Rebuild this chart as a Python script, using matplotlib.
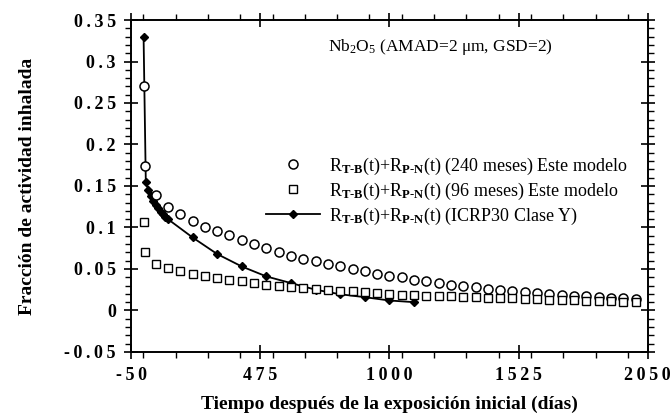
import numpy as np
import matplotlib
matplotlib.use('Agg')
import matplotlib.pyplot as plt
from matplotlib.ticker import MultipleLocator, FixedLocator

plt.rcParams['font.family'] = ['Liberation Serif', 'DejaVu Serif']
plt.rcParams['mathtext.fontset'] = 'custom'
plt.rcParams['mathtext.rm'] = 'Liberation Serif'
plt.rcParams['mathtext.it'] = 'Liberation Serif:italic'
plt.rcParams['mathtext.bf'] = 'Liberation Serif:bold'

# modelo 240 meses (circulos)
t_240 = [1, 7, 50, 100, 150, 200, 250, 300, 350, 400, 450, 500, 550, 600, 650,
         700, 750, 800, 850, 900, 950, 1000, 1050, 1100, 1150, 1200, 1250, 1300,
         1350, 1400, 1450, 1500, 1550, 1600, 1650, 1700, 1750, 1800, 1850, 1900,
         1950, 2000]
r_240 = [0.270, 0.174, 0.139, 0.125, 0.116, 0.108, 0.101, 0.096, 0.091, 0.085,
         0.080, 0.075, 0.071, 0.066, 0.062, 0.060, 0.056, 0.053, 0.050, 0.047,
         0.044, 0.042, 0.040, 0.037, 0.035, 0.033, 0.031, 0.030, 0.028, 0.026,
         0.025, 0.024, 0.022, 0.021, 0.020, 0.019, 0.018, 0.017, 0.016, 0.015,
         0.0147, 0.014]

# modelo 96 meses (cuadrados)
t_96 = t_240
r_96 = [0.107, 0.070, 0.056, 0.051, 0.047, 0.044, 0.041, 0.039, 0.037, 0.035,
        0.033, 0.031, 0.030, 0.028, 0.027, 0.026, 0.025, 0.024, 0.023, 0.022,
        0.021, 0.020, 0.019, 0.0185, 0.018, 0.0175, 0.017, 0.0165, 0.016, 0.0155,
        0.015, 0.0145, 0.014, 0.0135, 0.013, 0.0125, 0.012, 0.0117, 0.0113, 0.011,
        0.0107, 0.0104]

# ICRP30 clase Y
t_icrp = [1, 10, 20, 30, 40, 50, 60, 70, 80, 90, 100, 200, 300, 400, 500, 600,
          700, 800, 900, 1000, 1100]
r_icrp = [0.329, 0.155, 0.145, 0.138, 0.132, 0.127, 0.123, 0.119, 0.116, 0.113,
          0.110, 0.088, 0.068, 0.053, 0.041, 0.033, 0.025, 0.0195, 0.016, 0.012,
          0.010]

xticks = [-50, 475, 1000, 1525, 2050]
yticks = [-0.05, 0, 0.05, 0.1, 0.15, 0.2, 0.25, 0.3, 0.35]
ytick_labels = ['-0.05', '0', '0.05', '0.1', '0.15', '0.2', '0.25', '0.3', '0.35']


def spaced(s):
    # tick labels in the original are letter-spaced
    return '\u2009'.join(s)


fig = plt.figure(figsize=(6.72, 4.17), dpi=100)
ax = fig.add_axes([0.195, 0.156, 0.769, 0.796])

sub_tb = r'R$_{\mathbf{T}\text{-}\mathbf{B}}$(t)+R$_{\mathbf{P}\text{-}\mathbf{N}}$(t)'
ax.plot(t_240, r_240, 'o', ms=6.5, mfc='white', mec='black', mew=1.1,
        label=sub_tb + ' (240 meses) Este modelo', zorder=3)
ax.plot(t_96, r_96, 's', ms=5.8, mfc='white', mec='black', mew=1.0,
        label=sub_tb + ' (96 meses) Este modelo', zorder=3)
ax.plot(t_icrp, r_icrp, '-D', color='black', lw=1.3, ms=4, mfc='black',
        label=sub_tb + ' (ICRP30 Clase Y)', zorder=2)

ax.set_xlim(-50, 2050)
ax.set_ylim(-0.05, 0.35)
ax.xaxis.set_major_locator(FixedLocator(xticks))
ax.xaxis.set_minor_locator(MultipleLocator(131.25))
ax.yaxis.set_major_locator(FixedLocator(yticks))
ax.yaxis.set_minor_locator(MultipleLocator(0.01))
ax.set_xticklabels([spaced(str(v)) for v in xticks], fontweight='bold', fontsize=13)
ax.set_yticklabels([spaced(s) for s in ytick_labels], fontweight='bold', fontsize=13)

ax.tick_params(which='major', direction='inout', length=10, width=1.2,
               top=True, right=True, pad=6)
ax.tick_params(which='minor', direction='out', length=4, width=1.0,
               top=True, right=True)
for s in ax.spines.values():
    s.set_linewidth(1.4)

ax.set_xlabel('Tiempo después de la exposición inicial (días)',
              fontweight='bold', fontsize=14, labelpad=8)
ax.set_ylabel('Fracción de actividad inhalada', fontweight='bold',
              fontsize=14, labelpad=20)

ax.text(0.598, 0.918, r'Nb$_2$O$_5$ (AMAD=2 μm, GSD=2)',
        transform=ax.transAxes, ha='center', va='center', fontsize=12.5)

ax.legend(loc='upper right', bbox_to_anchor=(0.985, 0.63), frameon=False,
          fontsize=13, handlelength=3.0, handletextpad=0.5, labelspacing=0.22,
          borderpad=0.2)

fig.savefig('out.png', dpi=100)
